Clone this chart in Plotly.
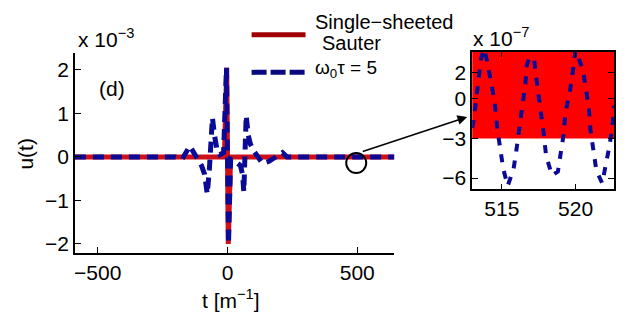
import plotly.graph_objects as go

# ---- data (u in units of 1e-3 for main panel, 1e-7 for inset) ----
red_t = [-588, -12, -3, 3, 12, 643]
red_u = [0, 0, 2.05, -2.0, 0, 0]

blue_t = [-588, -200, -175, -145, -120, -100, -88, -78, -70, -64, -58, -50, -40, -30, -15,
          -4, 4, 12, 30, 50, 58, 63, 68, 72, 80, 88, 100, 115, 135, 160, 185, 212, 230, 643]
blue_u = [0, 0, -0.05, 0.25, 0, -0.2, -0.4, -0.85, -0.3, 0.35, 0.9, 0.5, 0.15, 0.05, 0.1,
          2.05, -2.0, -0.05, -0.1, -0.2, -0.4, -0.8, 0.2, 0.95, 0.5, 0.3, 0.15, 0.0, -0.15, -0.1, 0.0, 0.1, 0.0, 0]

circle_t = [496]
circle_u = [-0.14]

inset_t = [513.0, 513.1, 513.6, 513.8, 514.0, 514.3, 514.5, 514.7, 514.9, 515.1, 515.4, 515.8, 516.0,
           516.2, 516.4, 516.6, 516.7, 517.1, 517.3, 517.5, 517.7, 517.85, 518.0, 518.4, 518.8,
           519.0, 519.2, 519.3, 519.6, 519.8, 520.0, 520.5, 520.7, 520.9, 521.0, 521.2, 521.4,
           521.8, 522.0, 522.3, 522.5, 522.6]
inset_u = [-2.2, -1.6, 3.1, 3.8, 2.9, 1.25, -0.1, -2.3, -3.75, -5.3, -6.6, -5.3, -3.8,
           -2.1, -0.6, 1.2, 2.6, 3.9, 1.9, 0.25, -1.25, -2.75, -4.3, -5.8, -5.5,
           -4.2, -2.6, -1.1, 0.5, 2.0, 3.7, 2.2, 0.75, -0.75, -2.3, -4.0, -5.4,
           -6.4, -5.3, -3.5, -2.0, -0.5]
band_t = [512.5, 523]
band_lo = [-3, -3]
band_hi = [10, 10]

main_xticks = [-500, 0, 500]
main_yticks = [-2, -1, 0, 1, 2]
inset_xticks = [515, 520]
inset_yticks = [2, 0, -3, -6]

FONT = "Liberation Sans, Arial, Helvetica, sans-serif"
W, H = 625, 332

def px(x):
    return x / W

def py(y):
    return 1 - y / H

fig = go.Figure()
fig.add_trace(go.Scatter(x=red_t, y=red_u, mode="lines",
                         line=dict(color="#d01018", width=5), showlegend=False))
fig.add_trace(go.Scatter(x=blue_t, y=blue_u, mode="lines",
                         line=dict(color="#0a0a96", width=5, dash="11px,7px"), showlegend=False))
fig.add_trace(go.Scatter(x=circle_t, y=circle_u, mode="markers",
                         marker=dict(symbol="circle-open", size=20, color="black", line=dict(width=2)),
                         showlegend=False))

# inset
fig.add_trace(go.Scatter(x=band_t, y=band_lo, mode="lines", line=dict(width=0, color="red"),
                         xaxis="x2", yaxis="y2", showlegend=False))
fig.add_trace(go.Scatter(x=band_t, y=band_hi, mode="lines", line=dict(width=0, color="red"),
                         fill="tonexty", fillcolor="#ff0000", xaxis="x2", yaxis="y2", showlegend=False))
fig.add_trace(go.Scatter(x=inset_t, y=inset_u, mode="lines",
                         line=dict(color="#0a0a96", width=4, dash="8px,9px"),
                         xaxis="x2", yaxis="y2", showlegend=False))

axis_common = dict(showgrid=False, zeroline=False, showline=True, linecolor="black", linewidth=1.5,
                   ticks="inside", ticklen=6, tickcolor="black", tickwidth=1.2,
                   tickfont=dict(family=FONT, size=21, color="black"))

fig.update_layout(
    width=W, height=H, margin=dict(l=0, r=0, t=0, b=0),
    paper_bgcolor="white", plot_bgcolor="white",
    xaxis=dict(domain=[px(74), px(394)], range=[-588, 643], tickvals=main_xticks,
               anchor="y", **axis_common),
    yaxis=dict(domain=[py(255), py(53)], range=[-2.2, 2.4], tickvals=main_yticks,
               anchor="x", **axis_common),
    xaxis2=dict(domain=[px(472), px(614)], range=[513, 522.6], tickvals=inset_xticks,
                anchor="y2", mirror="ticks", **axis_common),
    yaxis2=dict(domain=[py(191), py(52)], range=[-6.85, 3.6], tickvals=inset_yticks,
                anchor="x2", mirror="ticks", **axis_common),
    font=dict(family=FONT, size=20, color="black"),
)

shapes = [
    dict(type="line", xref="paper", yref="paper", x0=px(251), x1=px(305), y0=py(35), y1=py(35),
         line=dict(color="#a00000", width=5)),
    dict(type="line", xref="paper", yref="paper", x0=px(251), x1=px(305), y0=py(73), y1=py(73),
         line=dict(color="#0a0a80", width=5, dash="15px,4px")),
]
fig.update_layout(shapes=shapes)

def ann(text, x, y, xanchor="left", yanchor="middle", size=20, **kw):
    fig.add_annotation(text=text, xref="paper", yref="paper", x=px(x), y=py(y),
                       xanchor=xanchor, yanchor=yanchor, showarrow=False,
                       font=dict(family=FONT, size=size, color="black"), **kw)

ann("Single\u2212sheeted", 313, 22, size=20)
ann("Sauter", 320, 43, size=20)
ann("\u03c9<sub>0</sub>\u03c4 = 5", 313, 70, size=19)
ann("x 10<sup>\u22123</sup>", 75, 38, size=21)
ann("(d)", 96, 89, size=21)
ann("x 10<sup>\u22127</sup>", 471, 37, size=21)
ann("u(t)", 25, 155, xanchor="center", textangle=-90, size=21)
ann("t [m<sup>\u22121</sup>]", 230, 302, xanchor="center", size=21)

fig.add_annotation(xref="paper", yref="paper", x=px(467), y=py(118), ax=-106, ay=35,
                   showarrow=True, arrowhead=2, arrowsize=1.3, arrowwidth=1.5, arrowcolor="black", text="")

fig.write_html("out.html")
